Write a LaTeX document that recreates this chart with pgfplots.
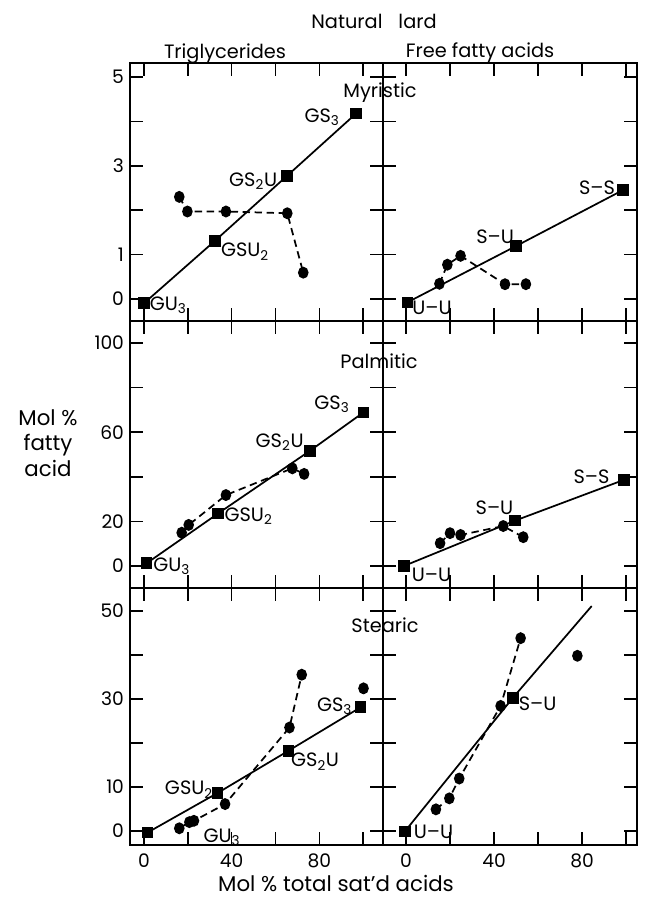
\documentclass[border=0pt]{standalone}
\usepackage{pgfplots}
\pgfplotsset{compat=1.18}
\usepackage{fontspec}
\setmainfont{Poppins}

\tikzset{lab/.style={font=\fontsize{14.5}{16}\selectfont, inner sep=1pt}}
\pgfplotsset{
  panel/.style={scale only axis, clip=false,
    axis line style={line width=1.2pt},
    every tick/.style={line width=1.1pt, black},
    major tick length=9.5pt, tick align=inside,
    xtick={0,20,...,100}, xticklabels={}, yticklabels={},
    /pgf/number format/assume math mode=true,
    tick label style={font=\fontsize{14}{16}\selectfont},
    xticklabel style={yshift=-3pt},
    yticklabel style={xshift=-1pt}},
  L/.style={panel, xmin=-6.4, xmax=109.1, width=189.75pt},
  R/.style={panel, xmin=-10.45, xmax=105, width=190.5pt},
  row1/.style={ymin=-0.5, ymax=5.32, height=193.5pt, ytick={0,1,...,5}},
  row2/.style={ymin=-9.9, ymax=109.9, height=200.25pt, ytick={0,20,...,100}},
  row3/.style={ymin=-3.2, ymax=55.2, height=192.75pt, ytick={0,10,...,50}},
  sq/.style={black, solid, line width=1.3pt, mark=square*, mark size=3.7pt, mark options={solid}},
  dt/.style={black, line width=1.3pt, dash pattern=on 5.5pt off 3.5pt, mark=*, mark size=3.3pt, mark options={solid, yscale=1.15}},
}

\begin{document}
\begin{tikzpicture}
\useasboundingbox (0,0) rectangle (483.75pt,-673.5pt);

% ---------- Row 1: Myristic ----------
\begin{axis}[L, row1, at={(97.5pt,-47.25pt)}, anchor=north west,
  yticklabels={0,1,,3,,5}]
\addplot[sq] coordinates {(0,-0.1) (32.4,1.31) (65.2,2.77) (96.8,4.18)};
\addplot[dt] coordinates {(16.1,2.30) (19.8,1.97) (37.4,1.97) (65.4,1.93) (72.7,0.59)};
\node[lab] at (axis cs:81.3,4.1) {GS\textsubscript{3}};
\node[lab] at (axis cs:49.8,2.66) {GS\textsubscript{2}U};
\node[lab] at (axis cs:46.1,1.06) {GSU\textsubscript{2}};
\node[lab] at (axis cs:11,-0.14) {GU\textsubscript{3}};
\end{axis}
\begin{axis}[R, row1, at={(287.25pt,-47.25pt)}, anchor=north west]
\addplot[sq] coordinates {(0.6,-0.08) (50,1.19) (98.5,2.45)};
\addplot[dt] coordinates {(15.2,0.34) (18.8,0.77) (24.8,0.97) (45,0.33) (54.5,0.33)};
\node[lab] at (axis cs:86.8,2.5) {S--S};
\node[lab] at (axis cs:40.5,1.39) {S--U};
\node[lab] at (axis cs:11.8,-0.2) {U--U};
\end{axis}

% ---------- Row 2: Palmitic ----------
\begin{axis}[L, row2, at={(97.5pt,-240.75pt)}, anchor=north west,
  yticklabels={0,20,,60,,100}]
\addplot[sq] coordinates {(1.2,1.2) (33.9,23.6) (75.8,51.7) (100.2,68.9)};
\addplot[dt] coordinates {(17.2,14.9) (20.4,18.4) (37.4,31.8) (67.7,43.8) (73.1,41.3)};
\node[lab] at (axis cs:85.8,72.6) {GS\textsubscript{3}};
\node[lab] at (axis cs:61.9,55.6) {GS\textsubscript{2}U};
\node[lab] at (axis cs:47.7,22.4) {GSU\textsubscript{2}};
\node[lab] at (axis cs:12.6,0) {GU\textsubscript{3}};
\end{axis}
\begin{axis}[R, row2, at={(287.25pt,-240.75pt)}, anchor=north west]
\addplot[sq] coordinates {(-0.9,0) (49.5,20.3) (99,38.6)};
\addplot[dt] coordinates {(15.5,10.2) (20,14.7) (24.8,13.9) (44.2,17.9) (53.3,12.9)};
\node[lab] at (axis cs:84.3,40.1) {S--S};
\node[lab] at (axis cs:40.2,26.2) {S--U};
\node[lab] at (axis cs:11.6,-4.0) {U--U};
\end{axis}

% ---------- Row 3: Stearic ----------
\begin{axis}[L, row3, at={(97.5pt,-441pt)}, anchor=north west,
  yticklabels={0,10,,30,,50}, xticklabels={0,,40,,80,}]
\addplot[sq] coordinates {(1.5,-0.4) (33.5,8.6) (65.9,18.2) (98.9,28.1)};
\addplot[dt] coordinates {(16.1,0.6) (20.7,2.0) (22.8,2.3) (37,6.1) (66.4,23.5) (72,35.5)};
\addplot[dt, only marks] coordinates {(100.2,32.4)};
\node[lab] at (axis cs:87,28.4) {GS\textsubscript{3}};
\node[lab] at (axis cs:78.1,15.7) {GS\textsubscript{2}U};
\node[lab] at (axis cs:20.5,9.4) {GSU\textsubscript{2}};
\node[lab] at (axis cs:35.6,-1.4) {GU\textsubscript{3}};
\end{axis}
\begin{axis}[R, row3, at={(287.25pt,-441pt)}, anchor=north west,
  xticklabels={0,,40,,80,}]
\addplot[black, solid, line width=1.3pt] coordinates {(-0.5,-0.1) (48.5,30.2) (84.4,51.1)};
\addplot[sq, only marks] coordinates {(-0.5,-0.1) (48.5,30.2)};
\addplot[dt] coordinates {(13.6,4.9) (19.7,7.4) (24.2,11.9) (43,28.4) (52.1,43.8)};
\addplot[dt, only marks] coordinates {(77.9,39.8)};
\node[lab] at (axis cs:59.8,28.9) {S--U};
\node[lab] at (axis cs:12.5,-0.3) {U--U};
\end{axis}

% ---------- Titles and labels ----------
\node[font=\fontsize{14.5}{16}\selectfont] at (280.5pt,-16pt) {Natural\hspace{12pt}lard};
\node[font=\fontsize{14.5}{16}\selectfont] at (168.75pt,-40pt) {Triglycerides};
\node[font=\fontsize{14.5}{16}\selectfont] at (360pt,-39.5pt) {Free fatty acids};
\node[font=\fontsize{14.5}{16}\selectfont] at (285pt,-69.75pt) {Myristic};
\node[font=\fontsize{14.5}{16}\selectfont] at (284.25pt,-270.75pt) {Palmitic};
\node[font=\fontsize{14.5}{16}\selectfont] at (288.75pt,-468.75pt) {Stearic};
\node[font=\fontsize{16}{19}\selectfont, align=center] at (36pt,-332.25pt) {Mol \%\\fatty\\acid};
\node[font=\fontsize{16}{18}\selectfont] at (252pt,-662.5pt) {Mol \% total sat'd acids};
\end{tikzpicture}
\end{document}
